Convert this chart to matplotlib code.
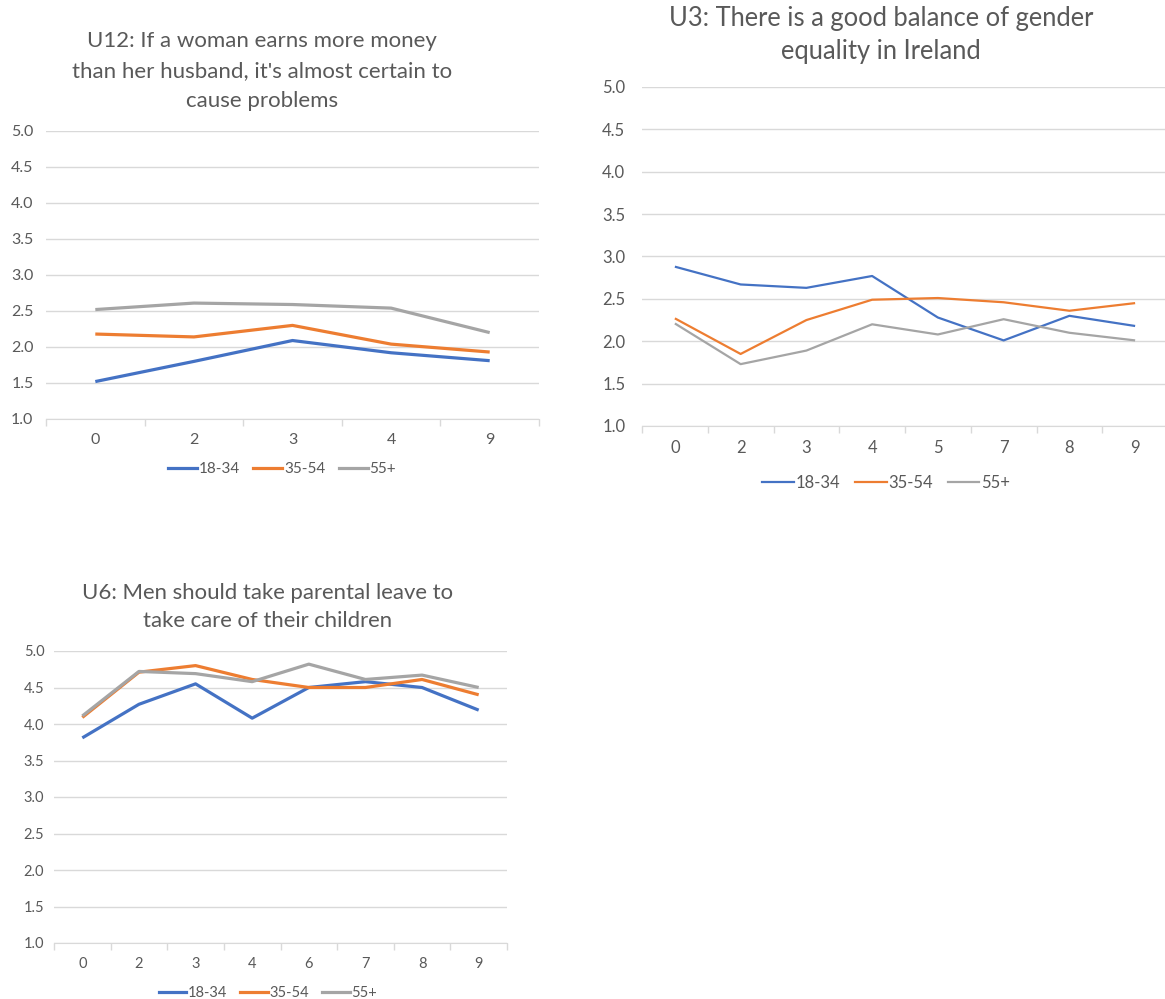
import matplotlib
matplotlib.use('Agg')
import matplotlib.pyplot as plt
from matplotlib.lines import Line2D

plt.rcParams['font.family'] = ['Lato', 'DejaVu Sans']

# Series names and colours (Excel defaults)
series = ['18-34', '35-54', '55+']
colors = ['#4472C4', '#ED7D31', '#A5A5A5']

# U12 panel
u12_cats = ['0', '2', '3', '4', '9']
u12_young = [1.52, 1.80, 2.09, 1.92, 1.81]
u12_mid = [2.18, 2.14, 2.30, 2.04, 1.93]
u12_old = [2.52, 2.61, 2.59, 2.54, 2.20]

# U3 panel
u3_cats = ['0', '2', '3', '4', '5', '7', '8', '9']
u3_young = [2.88, 2.67, 2.63, 2.77, 2.28, 2.01, 2.30, 2.18]
u3_mid = [2.27, 1.85, 2.25, 2.49, 2.51, 2.46, 2.36, 2.45]
u3_old = [2.21, 1.73, 1.89, 2.20, 2.08, 2.26, 2.10, 2.01]

# U6 panel
u6_cats = ['0', '2', '3', '4', '6', '7', '8', '9']
u6_young = [3.81, 4.27, 4.55, 4.08, 4.50, 4.58, 4.50, 4.19]
u6_mid = [4.09, 4.71, 4.80, 4.61, 4.50, 4.50, 4.61, 4.40]
u6_old = [4.11, 4.72, 4.69, 4.58, 4.82, 4.61, 4.67, 4.50]

yticks = [1.0, 1.5, 2.0, 2.5, 3.0, 3.5, 4.0, 4.5, 5.0]

W, H = 1165, 999
fig = plt.figure(figsize=(W / 100, H / 100), dpi=100)


def px_axes(x0, y0, x1, y1):
    # axes from pixel box (top-left origin)
    return fig.add_axes([x0 / W, 1 - y1 / H, (x1 - x0) / W, (y1 - y0) / H])


def panel(ax, cats, values, lw, tick_size, ypad):
    n = len(cats)
    x = list(range(n))
    for vals, c in zip(values, colors):
        ax.plot(x, vals, color=c, lw=lw, solid_capstyle='butt')
    ax.set_xlim(-0.5, n - 0.5)
    ax.set_ylim(1.0, 5.0)
    ax.set_yticks(yticks)
    ax.set_yticklabels(['%.1f' % v for v in yticks])
    ax.set_xticks(x)
    ax.set_xticklabels(cats)
    ax.set_xticks([i - 0.5 for i in range(n + 1)], minor=True)
    ax.grid(axis='y', color='#D9D9D9', lw=1.0)
    ax.set_axisbelow(True)
    for s in ['top', 'right', 'left']:
        ax.spines[s].set_visible(False)
    ax.spines['bottom'].set_color('#D9D9D9')
    ax.tick_params(axis='y', length=0, pad=ypad, labelsize=tick_size, labelcolor='#595959')
    ax.tick_params(axis='x', which='major', length=0, pad=10, labelsize=tick_size, labelcolor='#595959')
    ax.tick_params(axis='x', which='minor', length=5, color='#D9D9D9', width=1)


def legend(cx, cy, lw, size):
    handles = [Line2D([], [], color=c, lw=lw) for c in colors]
    fig.legend(handles, series, loc='center', bbox_to_anchor=(cx / W, 1 - cy / H),
               ncol=3, frameon=False, handlelength=1.9, handletextpad=0.1,
               columnspacing=0.9, prop={'size': size}, labelcolor='#595959')


# U12
ax1 = px_axes(46, 131, 539, 419)
panel(ax1, u12_cats, [u12_young, u12_mid, u12_old], 2.3, 11.5, 9)
fig.text(262 / W, 1 - 71 / H,
         "U12: If a woman earns more money\nthan her husband, it's almost certain to\ncause problems",
         ha='center', va='center', fontsize=16, color='#595959', linespacing=1.6)
legend(282, 469, 2.3, 11)

# U3
ax2 = px_axes(642, 87, 1168, 426)
panel(ax2, u3_cats, [u3_young, u3_mid, u3_old], 1.6, 12, 12)
fig.text(881 / W, 1 - 35 / H,
         "U3: There is a good balance of gender\nequality in Ireland",
         ha='center', va='center', fontsize=18.4, color='#595959', linespacing=1.4)
legend(886, 483, 1.6, 12)

# U6
ax3 = px_axes(54, 651, 507, 943)
panel(ax3, u6_cats, [u6_young, u6_mid, u6_old], 2.3, 10.5, 7)
fig.text(268 / W, 1 - 607 / H,
         "U6: Men should take parental leave to\ntake care of their children",
         ha='center', va='center', fontsize=15.9, color='#595959', linespacing=1.5)
legend(268, 993, 2.3, 10.5)

fig.savefig('out.png', dpi=100)
